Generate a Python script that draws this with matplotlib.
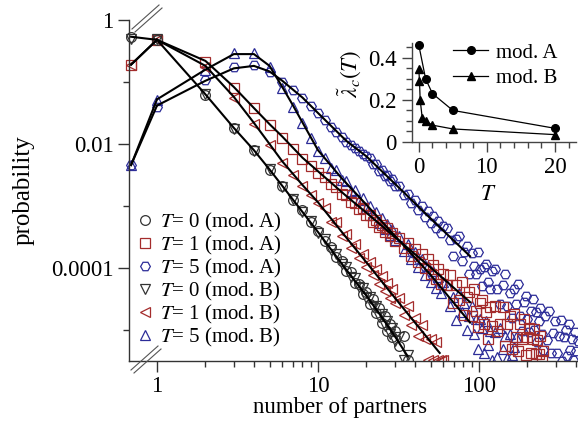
import numpy as np
import matplotlib.pyplot as plt
from matplotlib.lines import Line2D
from matplotlib.ticker import NullFormatter

plt.rcParams['font.family'] = 'Liberation Serif'
plt.rcParams['mathtext.fontset'] = 'stix'
plt.rcParams['font.size'] = 16.5

# number of partners (k) at which the distributions are sampled
k_grid = (list(range(1, 31)) + list(range(32, 61, 2)) + list(range(63, 121, 3))
          + list(range(125, 251, 5)) + list(range(258, 411, 8)))

# log10 probability
logp_A0 = [-0.32, -1.21, -1.74, -2.10, -2.42, -2.67, -2.91, -3.07, -3.26, -3.41,
           -3.57, -3.66, -3.83, -3.89, -4.05, -4.06, -4.24, -4.25, -4.42, -4.38,
           -4.58, -4.50, -4.72, -4.64, -4.88, -4.77, -5.02, -4.90, -5.12, -5.01,
           -5.25, -5.10, -5.48]
logp_B0 = [-0.30, -1.19, -1.75, -2.12, -2.40, -2.70, -2.89, -3.10, -3.24, -3.44,
           -3.54, -3.71, -3.78, -3.94, -3.98, -4.14, -4.16, -4.31, -4.33, -4.49,
           -4.47, -4.63, -4.61, -4.79, -4.74, -4.93, -4.85, -5.06, -4.96, -5.18,
           -5.12, -5.48, -5.40]
logp_A1 = [-0.32, -0.68, -1.10, -1.42, -1.70, -1.90, -2.08, -2.24, -2.36, -2.46,
           -2.53, -2.65, -2.69, -2.80, -2.83, -2.94, -2.95, -3.05, -3.04, -3.15,
           -3.14, -3.25, -3.22, -3.34, -3.31, -3.42, -3.36, -3.49, -3.43, -3.56,
           -3.52, -3.68, -3.60, -3.80, -3.70, -3.90, -3.78, -4.00, -3.86, -4.10,
           -3.95, -4.18, -4.02, -4.25, -4.10,
           -4.27, -4.11, -4.56, -4.27, -4.51, -4.22, -4.76, -4.47, -4.39, -4.78,
           -4.34, -4.70, -4.95, -4.56, -4.51, -4.91, -4.71, -5.14, -4.63, -4.93,
           -4.62, -5.01, -4.90, -4.63, -5.26, -4.90, -4.78, -5.31, -4.74, -5.12,
           -5.34, -4.90, -5.15, -4.82, -5.40, -5.12, -4.97, -5.37, -5.14, -4.99,
           -5.38, -5.16, -5.38, -5.10, -5.48, -5.34]
logp_B1 = [-0.32, -0.75, -1.25, -1.68, -2.02, -2.30, -2.50, -2.67, -2.82, -2.95,
           -3.04, -3.25, -3.26, -3.48, -3.45, -3.67, -3.62, -3.84, -3.78, -3.98,
           -3.90, -4.12, -4.02, -4.26, -4.13, -4.37, -4.24, -4.48, -4.34, -4.56,
           -4.48, -4.75, -4.62, -4.92, -4.80, -5.10, -4.92, -5.15, -5.48, -5.15,
           -5.48, -5.20, -5.48, -5.48, -5.48]
logp_A5 = [-1.40, -0.97, -0.76, -0.73, -0.84, -1.00, -1.13, -1.26, -1.38, -1.50,
           -1.62, -1.72, -1.81, -1.89, -1.96, -2.02, -2.07, -2.12, -2.16, -2.20,
           -2.23, -2.32, -2.33, -2.43, -2.42, -2.52, -2.50, -2.60, -2.57, -2.67,
           -2.67, -2.83, -2.80, -2.95, -2.90, -3.07, -3.00, -3.18, -3.08, -3.27,
           -3.16, -3.35, -3.24, -3.43, -3.32,
           -3.35, -3.55, -3.80, -3.54, -3.49, -3.88, -3.74, -3.64, -4.10, -3.76,
           -3.97, -4.09, -3.74, -4.02, -4.29, -3.98, -3.93, -4.22, -4.34, -4.05,
           -4.01, -4.34, -4.58, -4.27, -4.10, -4.61, -4.41, -4.81, -4.34, -4.58,
           -4.26, -4.77, -5.02, -4.55, -4.45, -4.82, -5.03, -4.70, -4.50, -5.00,
           -4.71, -5.20, -4.86, -4.65, -5.07, -5.32,
           -4.78, -5.16, -4.69, -5.37, -5.05, -4.85, -5.37, -5.09, -4.84, -5.50,
           -5.12, -5.00, -5.42, -4.90, -5.32, -5.14, -5.48, -5.04, -5.34, -5.18]
logp_B5 = [-1.29, -0.80, -0.53, -0.54, -0.75, -1.10, -1.40, -1.66, -1.90, -2.12,
           -2.22, -2.38, -2.42, -2.58, -2.59, -2.75, -2.74, -2.90, -2.87, -3.03,
           -3.00, -3.15, -3.10, -3.27, -3.19, -3.37, -3.29, -3.46, -3.37, -3.55,
           -3.48, -3.72, -3.62, -3.86, -3.74, -3.99, -3.86, -4.12, -3.96, -4.22,
           -4.05, -4.32, -4.15, -4.40, -4.22,
           -4.28, -4.61, -4.46, -4.84, -4.41, -4.71, -4.56, -5.00, -4.78, -4.62,
           -5.06, -4.82, -5.31, -4.82, -4.97, -5.37, -4.85, -5.24, -5.02, -5.48,
           -5.04, -5.43, -4.97, -5.31, -5.09, -5.45, -5.06, -5.40, -5.28, -5.11]

# probability at k = 0 (drawn on the broken part of the axis)
logp_k0 = {'A0': -0.27, 'A1': -0.72, 'A5': -2.34, 'B0': -0.30, 'B1': -0.72, 'B5': -2.34}

# model curves
fit_T0_k = [1, 2, 3, 4, 5, 7, 10, 15, 20, 25, 30, 36]
fit_T0 = [-0.32, -1.20, -1.74, -2.10, -2.41, -2.90, -3.42, -4.03, -4.45, -4.80, -5.10, -5.42]
fit_A1_k = [1, 2, 3, 4, 5, 6, 8, 10, 15, 20, 30, 50, 88]
fit_A1 = [-0.32, -0.66, -1.08, -1.42, -1.68, -1.88, -2.22, -2.44, -2.84, -3.11, -3.50, -3.99, -4.55]
fit_B1_k = [1, 2, 3, 4, 5, 6, 8, 10, 15, 20, 30, 40, 57]
fit_B1 = [-0.32, -0.74, -1.24, -1.66, -2.00, -2.28, -2.66, -2.94, -3.51, -3.91, -4.48, -4.88, -5.37]
fit_A5_k = [1, 2, 3, 4, 5, 6, 8, 10, 15, 20, 30, 50, 88]
fit_A5 = [-1.38, -0.98, -0.78, -0.74, -0.83, -0.98, -1.25, -1.50, -1.95, -2.20, -2.64, -3.20, -3.81]
fit_B5_k = [1, 2, 3, 4, 5, 6, 7, 8, 10, 14, 20, 30, 50, 88]
fit_B5 = [-1.28, -0.80, -0.55, -0.55, -0.74, -1.08, -1.38, -1.65, -2.10, -2.55, -2.98, -3.48, -4.11, -4.88]

# inset: critical rate vs T
T_A = [0, 1, 2, 5, 20]
lam_A = [0.46, 0.30, 0.23, 0.15, 0.065]
T_B = [0, 0.1, 0.2, 0.5, 1, 2, 5, 20]
lam_B = [0.345, 0.29, 0.20, 0.115, 0.10, 0.08, 0.062, 0.035]

K0_POS = 0.69
black = '#333333'
red = '#a42c2c'
blue = '#2c2c98'

W, H = 578, 432
fig = plt.figure(figsize=(W / 100, H / 100), dpi=100)
ax = fig.add_axes([129 / W, 1 - 361 / H, 449 / W, 341 / H])

series = [
    ('A0', logp_A0, 'o', black, r'$T$= 0 (mod. A)'),
    ('A1', logp_A1, 's', red, r'$T$= 1 (mod. A)'),
    ('A5', logp_A5, 'H', blue, r'$T$= 5 (mod. A)'),
    ('B0', logp_B0, 'v', black, r'$T$= 0 (mod. B)'),
    ('B1', logp_B1, '<', red, r'$T$= 1 (mod. B)'),
    ('B5', logp_B5, '^', blue, r'$T$= 5 (mod. B)'),
]
draw_order = ['A5', 'B5', 'A1', 'B1', 'A0', 'B0']
handles = {}
for name in draw_order:
    _, lp, m, c, lab = next(s for s in series if s[0] == name)
    h, = ax.plot(k_grid[:len(lp)], 10 ** np.array(lp), ls='none', marker=m, ms=7,
                 mfc='none', mec=c, mew=0.9, label=lab)
    ax.plot([K0_POS], [10 ** logp_k0[name]], ls='none', marker=m, ms=7,
            mfc='none', mec=c, mew=0.9, clip_on=False)
    handles[name] = h

fits = [(fit_T0_k, fit_T0, logp_k0['A0']), (fit_A1_k, fit_A1, logp_k0['A1']),
        (fit_B1_k, fit_B1, logp_k0['B1']), (fit_A5_k, fit_A5, logp_k0['A5']),
        (fit_B5_k, fit_B5, logp_k0['B5'])]
for fk, fl, z in fits:
    ax.plot(fk, 10 ** np.array(fl), color='k', lw=1.5)
    ax.plot([K0_POS, fk[0]], [10 ** z, 10 ** fl[0]], color='k', lw=1.5, clip_on=False)

ax.set_xscale('log')
ax.set_yscale('log')
ax.set_xlim(0.67, 412)
ax.set_ylim(10 ** -5.5, 1)
for s in ['top', 'right']:
    ax.spines[s].set_visible(False)
for s in ['left', 'bottom']:
    ax.spines[s].set_linewidth(1.0)
    ax.spines[s].set_color(black)

ax.set_xticks([1, 10, 100])
ax.set_xticklabels(['1', '10', '100'])
ax.set_xticks([2, 3, 4, 5, 6, 7, 8, 9, 20, 30, 40, 50, 60, 70, 80, 90, 200, 300, 400], minor=True)
ax.xaxis.set_minor_formatter(NullFormatter())
ax.set_yticks([1, 1e-2, 1e-4])
ax.set_yticklabels(['1', '0.01', '0.0001'])
ax.set_yticks([1e-1, 1e-3, 1e-5], minor=True)
ax.yaxis.set_minor_formatter(NullFormatter())
ax.tick_params(which='major', direction='out', length=8, width=1, color=black, pad=3)
ax.tick_params(which='minor', direction='out', length=4.5, width=1, color=black)

ax.set_xlabel('number of partners')
ax.xaxis.set_label_coords(0.47, -0.105)
ax.set_ylabel('probability', fontsize=18)
ax.yaxis.set_label_coords(-0.21, 0.5)

leg = ax.legend([handles[s[0]] for s in series], [s[4] for s in series],
                loc='upper left', bbox_to_anchor=(0.016, 0.44), frameon=False,
                fontsize=15, handlelength=0.85, handletextpad=0.3, labelspacing=0.0,
                borderpad=0, borderaxespad=0, numpoints=1)

# axis break marks
for (x0, y0, x1, y1) in [(131, 370, 158, 346), (134, 373, 161, 349),
                         (132, 29, 159, 5), (135, 32, 162, 8)]:
    fig.add_artist(Line2D([x0 / W, x1 / W], [1 - y0 / H, 1 - y1 / H],
                          color='#555555', lw=0.8))

# inset
axin = fig.add_axes([412 / W, 1 - 142 / H, 164 / W, 99 / H])
axin.plot(T_A, lam_A, '-o', color='k', ms=5.5, lw=0.9, label='mod. A', clip_on=False)
axin.plot(T_B, lam_B, '-^', color='k', ms=5.5, lw=0.9, label='mod. B', clip_on=False)
axin.set_xlim(-1, 23.1)
axin.set_ylim(0, 0.47)
for s in ['top', 'right']:
    axin.spines[s].set_visible(False)
for s in ['left', 'bottom']:
    axin.spines[s].set_color('#444444')
    axin.spines[s].set_linewidth(1.0)
axin.set_xticks([0, 10, 20])
axin.set_xticks([2, 4, 6, 8, 12, 14, 16, 18, 22], minor=True)
axin.set_yticks([0, 0.2, 0.4])
axin.set_yticklabels(['0', '0.2', '0.4'])
axin.set_yticks([0.05, 0.1, 0.15, 0.25, 0.3, 0.35, 0.45], minor=True)
axin.tick_params(which='major', direction='out', length=7, width=1, color='#444444', pad=4)
axin.tick_params(which='minor', direction='out', length=4, width=1, color='#444444')
axin.set_ylabel(r'$\tilde{\lambda}_c(T)$')
axin.yaxis.set_label_coords(-0.3, 0.69)
axin.set_xlabel(r'$T$')
axin.xaxis.set_label_coords(0.463, -0.42)
axin.legend(loc='upper left', bbox_to_anchor=(0.25, 1.0), frameon=False, fontsize=15,
            handlelength=1.7, handletextpad=0.35, labelspacing=0.3,
            borderpad=0, borderaxespad=0)

fig.savefig('out.png', dpi=100)
